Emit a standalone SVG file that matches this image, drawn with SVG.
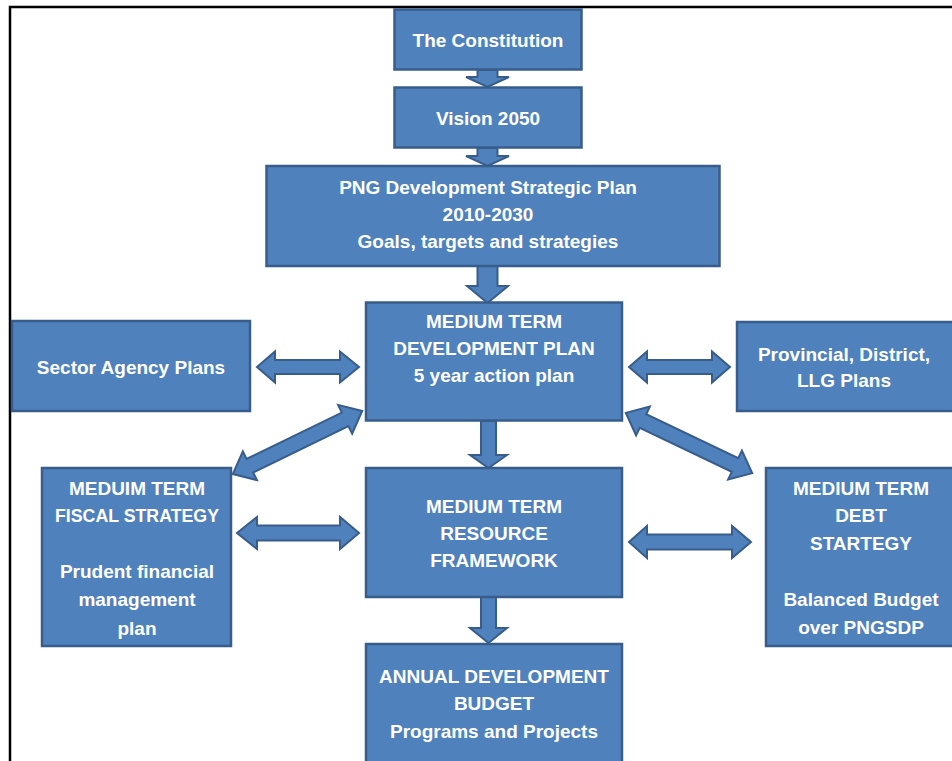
<svg xmlns="http://www.w3.org/2000/svg" width="952" height="761" viewBox="0 0 952 761">
<style>
.box{fill:#4F81BD;stroke:#385D8A;stroke-width:2.5}
.arr{fill:#4F81BD;stroke:#385D8A;stroke-width:2;stroke-linejoin:miter}
text{font-family:"Liberation Sans",Arial,sans-serif;font-size:19px;font-weight:bold;fill:#FFFFFF;text-anchor:middle}
</style>
<rect x="0" y="0" width="952" height="761" fill="#FFFFFF"/>
<path d="M10,761 V7 H952" fill="none" stroke="#000000" stroke-width="2.5"/>
<g id="connectors">
<polygon class="arr" points="477.5,70 497.5,70 497.5,77 509,77 487.5,87 466,77 477.5,77"/>
<polygon class="arr" points="477.5,148 497.5,148 497.5,156 509,156 487.5,166 466,156 477.5,156"/>
<polygon class="arr" points="477.5,266 497.5,266 497.5,286 508,286 487.5,303 467,286 477.5,286"/>
<polygon class="arr" points="481,421 496,421 496,455 507,455 488.5,468 470,455 481,455"/>
<polygon class="arr" points="481,597 496,597 496,628 507,628 488.5,643 470,628 481,628"/>
<polygon class="arr" points="257,367 275,351.5 275,360 340,360 340,351.5 359,367 340,382.5 340,374 275,374 275,382.5"/>
<polygon class="arr" points="629,367 647,351.5 647,360 712,360 712,351.5 730,367 712,382.5 712,374 647,374 647,382.5"/>
<polygon class="arr" points="237,533 257,517 257,525.5 340,525.5 340,517 359,533 340,549 340,540.5 257,540.5 257,549"/>
<polygon class="arr" points="629,542 647,526 647,534.5 732,534.5 732,526 751,542 732,558 732,549.5 647,549.5 647,558"/>
<g transform="translate(297.5,442.5) rotate(-26)">
<polygon class="arr" points="-72,0 -53,-16 -53,-7.5 53,-7.5 53,-16 72,0 53,16 53,7.5 -53,7.5 -53,16"/>
</g>
<g transform="translate(689,443) rotate(25.5)">
<polygon class="arr" points="-70,0 -51,-16 -51,-7.5 51,-7.5 51,-16 70,0 51,16 51,7.5 -51,7.5 -51,16"/>
</g>
</g>
<g id="constitution">
<rect class="box" x="394.5" y="9.5" width="187" height="60"/>
<text x="488" y="46.5">The Constitution</text>
</g>
<g id="vision">
<rect class="box" x="394.5" y="87.5" width="187" height="60"/>
<text x="488" y="124.5">Vision 2050</text>
</g>
<g id="pngdsp">
<rect class="box" x="266.5" y="166" width="453" height="100"/>
<text x="488" y="193.5">PNG Development Strategic Plan</text>
<text x="488" y="220.5">2010-2030</text>
<text x="488" y="247.5">Goals, targets and strategies</text>
</g>
<g id="mtdp">
<rect class="box" x="366" y="302.5" width="256" height="118"/>
<text x="494" y="327.5">MEDIUM TERM</text>
<text x="494" y="354.5">DEVELOPMENT PLAN</text>
<text x="494" y="381.5">5 year action plan</text>
</g>
<g id="sector">
<rect class="box" x="12" y="321" width="238" height="90"/>
<text x="131" y="373.5">Sector Agency Plans</text>
</g>
<g id="provincial">
<rect class="box" x="737" y="322" width="220" height="89"/>
<text x="844" y="360.5">Provincial, District,</text>
<text x="844" y="386.5">LLG Plans</text>
</g>
<g id="mtfs">
<rect class="box" x="42" y="468" width="189" height="178"/>
<text x="137" y="494.5">MEDUIM TERM</text>
<text x="137" y="521.5" textLength="164" lengthAdjust="spacingAndGlyphs">FISCAL STRATEGY</text>
<text x="137" y="577.5">Prudent financial</text>
<text x="137" y="605.5">management</text>
<text x="137" y="634.5">plan</text>
</g>
<g id="mtrf">
<rect class="box" x="366" y="468" width="256" height="129"/>
<text x="494" y="512.5">MEDIUM TERM</text>
<text x="494" y="539.5">RESOURCE</text>
<text x="494" y="566.5">FRAMEWORK</text>
</g>
<g id="mtds">
<rect class="box" x="766" y="468" width="192" height="178"/>
<text x="861" y="494.5">MEDIUM TERM</text>
<text x="861" y="521.5">DEBT</text>
<text x="861" y="549.5">STARTEGY</text>
<text x="861" y="605.5">Balanced Budget</text>
<text x="861" y="633.5">over PNGSDP</text>
</g>
<g id="annual">
<rect class="box" x="366" y="644" width="256" height="120"/>
<text x="494" y="682.5">ANNUAL DEVELOPMENT</text>
<text x="494" y="709.5">BUDGET</text>
<text x="494" y="737.5">Programs and Projects</text>
</g>
</svg>
